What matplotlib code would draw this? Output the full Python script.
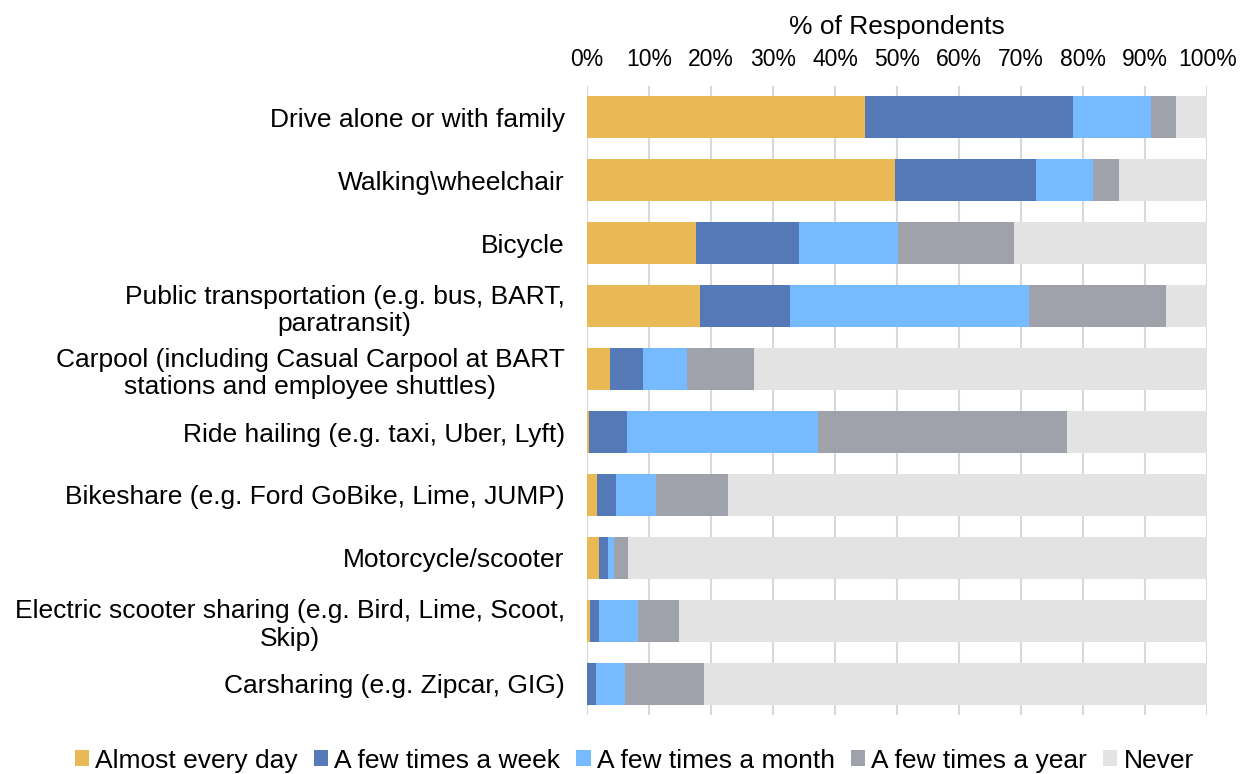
import numpy as np
import matplotlib.pyplot as plt
from matplotlib.ticker import PercentFormatter

plt.rcParams['font.family'] = ['Liberation Sans', 'DejaVu Sans']

# ===== DATA =====
modes = [
    'Drive alone or with family',
    'Walking\\wheelchair',
    'Bicycle',
    'Public transportation (e.g. bus, BART,\nparatransit)',
    'Carpool (including Casual Carpool at BART\nstations and employee shuttles)',
    'Ride hailing (e.g. taxi, Uber, Lyft)',
    'Bikeshare (e.g. Ford GoBike, Lime, JUMP)',
    'Motorcycle/scooter',
    'Electric scooter sharing (e.g. Bird, Lime, Scoot,\nSkip)',
    'Carsharing (e.g. Zipcar, GIG)',
]
almost_every_day = [44.8, 49.7, 17.6, 18.2, 3.8, 0.3, 1.6, 2.0, 0.5, 0.1]
few_week = [33.5, 22.7, 16.6, 14.6, 5.3, 6.2, 3.1, 1.4, 1.5, 1.4]
few_month = [12.6, 9.2, 16.0, 38.4, 7.0, 30.8, 6.4, 1.0, 6.2, 4.6]
few_year = [4.1, 4.1, 18.6, 22.1, 10.9, 40.0, 11.6, 2.2, 6.6, 12.8]
never = [5.0, 14.3, 31.2, 6.7, 73.0, 22.7, 77.3, 93.4, 85.2, 81.1]

series = [
    ('Almost every day', almost_every_day, '#E9B955'),
    ('A few times a week', few_week, '#5578B7'),
    ('A few times a month', few_month, '#76BBFF'),
    ('A few times a year', few_year, '#9FA2AA'),
    ('Never', never, '#E3E3E3'),
]

FS = 19

# ===== PLOT =====
fig = plt.figure(figsize=(12.46, 7.74), dpi=100)
ax = fig.add_axes([0.471, 0.076, 0.498, 0.813])

y = np.arange(len(modes))
left = np.zeros(len(modes))
for name, vals, color in series:
    vals = np.array(vals)
    ax.barh(y, vals, left=left, height=0.67, color=color, label=name, linewidth=0)
    left += vals

ax.set_xlim(0, 100)
ax.set_ylim(len(modes) - 0.5, -0.5)
ax.set_xticks(np.arange(0, 101, 10))
ax.xaxis.set_major_formatter(PercentFormatter(decimals=0))
ax.xaxis.tick_top()
ax.xaxis.set_label_position('top')
ax.set_xlabel('% of Respondents', fontsize=FS, labelpad=10)
ax.set_yticks(y)
ax.set_yticklabels(modes, fontsize=FS, multialignment='center', linespacing=1.2)
ax.tick_params(axis='both', length=0)
ax.tick_params(axis='x', labelsize=16.5, pad=11)
ax.tick_params(axis='y', pad=16)
ax.grid(axis='x', color='#D9D9D9', linewidth=1.5)
ax.set_axisbelow(True)
for s in ax.spines.values():
    s.set_visible(False)

fig.legend(loc='lower center', bbox_to_anchor=(0.509, -0.012), ncol=5, frameon=False,
           fontsize=FS, handlelength=0.55, handleheight=0.55, handletextpad=0.23,
           columnspacing=0.6, borderaxespad=0)

fig.savefig('out.png', dpi=100)
